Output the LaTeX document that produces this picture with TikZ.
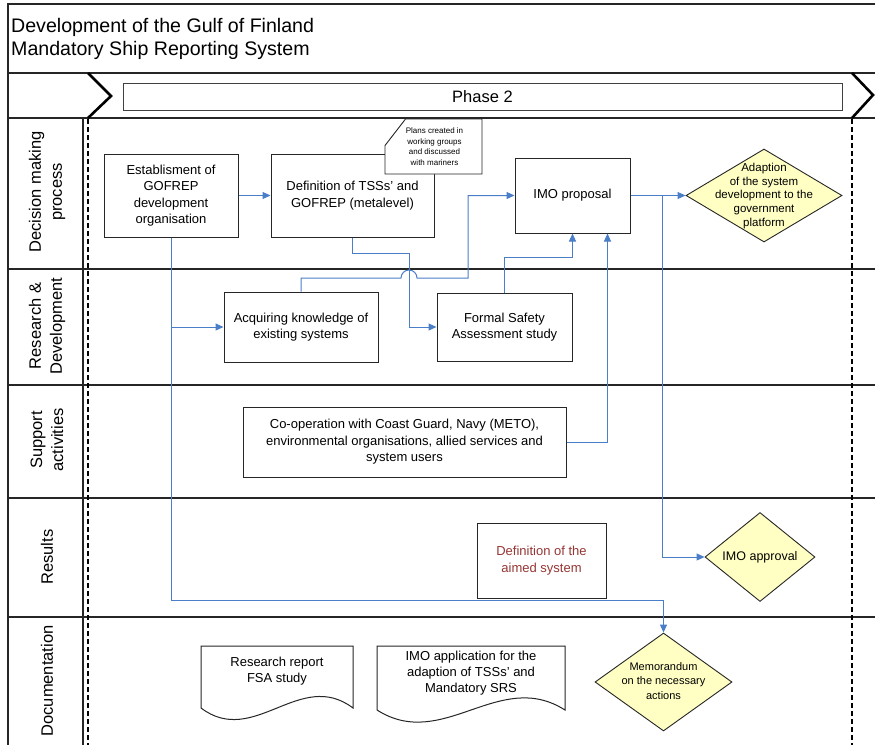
\documentclass[tikz,border=0pt]{standalone}
\usepackage{fontspec}
\setmainfont{Liberation Sans}
\usetikzlibrary{arrows.meta,shapes.geometric,calc}

\definecolor{flow}{RGB}{74,126,200}
\definecolor{decis}{RGB}{255,255,196}
\definecolor{resred}{RGB}{150,54,52}

\tikzset{
  frame/.style={draw=black!85,line width=1.1pt},
  chev/.style={draw=black,line width=2.6pt},
  lanedots/.style={draw=black,line width=2.6pt,dash pattern=on 5pt off 3pt},
  stepbox/.style={draw=black!85,line width=1pt,fill=white,align=center,inner sep=0pt,
    font=\fontsize{13}{16.5}\selectfont},
  notetext/.style={align=center,inner sep=0pt,font=\fontsize{8}{10.6}\selectfont},
  dec/.style={diamond,draw=black!85,line width=0.9pt,fill=decis,inner sep=0pt},
  dectext/.style={align=center,inner sep=0pt},
  doctext/.style={align=center,inner sep=0pt,font=\fontsize{13}{16}\selectfont},
  docshape/.style={draw=black!85,line width=1pt,fill=white},
  lanelabel/.style={rotate=90,align=center,inner sep=0pt,font=\fontsize{16.5}{21}\selectfont},
  link/.style={draw=flow,line width=1pt},
  arr/.style={link,-{Triangle[length=8pt,width=7pt]}},
}

\begin{document}
\begin{tikzpicture}[x=1pt,y=-1pt]
\useasboundingbox (0,0) rectangle (875,745);
\fill[white] (0,0) rectangle (875,745);

% title block and lane frame
\draw[frame] (875,4) -- (8,4) -- (8,745);
\draw[frame] (8,73) -- (875,73);
\draw[frame] (8,118) -- (875,118);
\draw[frame] (83,118) -- (83,745);
\foreach \yy in {269,385,498,617} \draw[frame] (8,\yy) -- (875,\yy);

\node[anchor=west,align=left,inner sep=0pt,font=\fontsize{19.6}{23}\selectfont] (title) at (11,39)
  {Development of the Gulf of Finland\\Mandatory Ship Reporting System};

% phase header
\draw[chev] (88,73) -- (111,96) -- (88,118);
\draw[chev] (852,73) -- (873,95) -- (852,118);
\node[draw=black!75,line width=1pt,minimum width=719pt,minimum height=27pt,inner sep=0pt,
  font=\fontsize{16.5}{19}\selectfont] (phase) at (482.5,96.5) {Phase 2};

% lane separators
\draw[lanedots] (88,119) -- (88,745);
\draw[lanedots] (852,119) -- (852,745);

% lane labels
\node[lanelabel] (l1) at (47,192) {Decision making\\process};
\node[lanelabel] (l2) at (47,326) {Research \&\\Development};
\node[lanelabel] (l3) at (47,440) {Support\\activities};
\node[lanelabel] (l4) at (47,557) {Results};
\node[lanelabel] (l5) at (47,681) {Documentation};

% decision making process
\node[stepbox,minimum width=134pt,minimum height=83pt] (est) at (171,195.5)
  {Establisment of\\GOFREP\\development\\organisation};
\node[stepbox,minimum width=163pt,minimum height=83pt] (def) at (352.5,195.5)
  {Definition of TSSs' and\\GOFREP (metalevel)};
\coordinate (notec) at (433.5,146.5);
\draw[docshape,line width=0.9pt] ($(notec)+(-28,-27.5)$) -- ($(notec)+(48.5,-27.5)$)
  -- ($(notec)+(48.5,27.5)$) -- ($(notec)+(-48.5,27.5)$) -- ($(notec)+(-48.5,-1)$) -- cycle;
\node[notetext] (note) at ($(notec)+(1,0)$)
  {Plans created in\\working groups\\and discussed\\with mariners};
\node[stepbox,minimum width=115pt,minimum height=75pt] (imo) at (572.5,195.5) {IMO proposal};
\node[dec,minimum width=156pt,minimum height=93pt] (adapt) at (764,195.5) {};
\node[dectext,font=\fontsize{11.5}{13.8}\selectfont] (adaptt) at (764,196)
  {Adaption\\of the system\\development to the\\government\\platform};

% research & development
\node[stepbox,minimum width=154pt,minimum height=70pt] (acq) at (301,327)
  {Acquiring knowledge of\\existing systems};
\node[stepbox,minimum width=135pt,minimum height=68pt] (fsa) at (504.5,327)
  {Formal Safety\\Assessment study};

% support activities
\node[stepbox,minimum width=323pt,minimum height=70pt] (coop) at (404.5,442)
  {Co-operation with Coast Guard, Navy (METO),\\environmental organisations, allied services and\\system users};

% results
\node[stepbox,minimum width=129pt,minimum height=75pt,text=resred] (aim) at (541.5,560.5)
  {Definition of the\\aimed system};
\node[dec,minimum width=110pt,minimum height=89pt] (appr) at (760,557) {};
\node[dectext,font=\fontsize{12.5}{15}\selectfont] (apprt) at (760,557) {IMO approval};

% documentation: sheets with a wavy lower edge
\coordinate (d1) at (201,646);
\draw[docshape] (d1) -- ++(152,0) -- ++(0,62)
  .. controls ($(d1)+(99,22)$) and ($(d1)+(53,102)$) .. ($(d1)+(0,62)$) -- cycle;
\node[doctext] (rep) at (277,671.5) {Research report\\FSA study};
\coordinate (d2) at (377,646);
\draw[docshape] (d2) -- ++(188,0) -- ++(0,64)
  .. controls ($(d2)+(122,22)$) and ($(d2)+(66,106)$) .. ($(d2)+(0,64)$) -- cycle;
\node[doctext] (app) at (471,673) {IMO application for the\\adaption of TSSs' and\\Mandatory SRS};
\node[dec,minimum width=137pt,minimum height=98pt] (memo) at (663.5,682) {};
\node[dectext,font=\fontsize{11}{14.5}\selectfont] (memot) at (663.5,681)
  {Memorandum\\on the necessary\\actions};

% connectors
\draw[arr] (est.east) -- (def.west);
\draw[arr] (est.south) |- (acq.west);
\draw[arr] (est.south) -- (171,600) -| (memo.north);
\draw[arr] (def.south) |- (409,253) |- (fsa.west);
\draw[arr] (acq.north) |- (401,278) arc (180:360:8) -- (468,278) |- (imo.west);
\draw[arr] (fsa.north) -- ++(0,-35) -| (imo.south);
\draw[arr] (coop.east) -| ($(imo.south east)+(-23,0)$);
\draw[arr] (imo.east) -- (adapt.west);
\draw[arr] (imo.east) -- ++(32,0) |- (appr.west);
\end{tikzpicture}
\end{document}
